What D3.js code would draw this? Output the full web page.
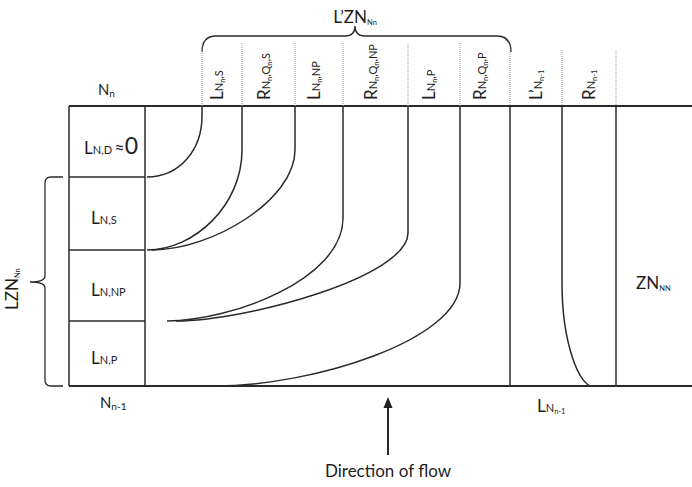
<!DOCTYPE html>
<html><head><meta charset="utf-8">
<script src="https://cdn.jsdelivr.net/npm/d3@7"></script>
<style>
body{margin:0;background:#fff}
svg{display:block}
text{font-family:Lato,"Open Sans",sans-serif;fill:#1e1e1e}
</style>
</head><body>
<svg id="c" width="692" height="487"></svg>
<script>
// ---------- data (diagram units) ----------
const rowEdges = [106, 177, 250, 321, 386];          // N_n ... N_n-1 depth boundaries
const colEdges = [202, 242, 295, 343, 408, 460, 510, 562, 616]; // band boundaries
const rowLabels = [
  [["L",0],["N,D",1],["\u2009\u2248",3],["0",4]],
  [["L",0],["N,S",1]],
  [["L",0],["N,NP",1]],
  [["L",0],["N,P",1]]
];
const colLabels = [
  [["L",0],["N",1],["n",2],[",S",1]],
  [["R",0],["N",1],["n",2],[",",1],["Q",1],["n",2],[",S",1]],
  [["L",0],["N",1],["n",2],[",NP",1]],
  [["R",0],["N",1],["n",2],[",",1],["Q",1],["n",2],[",NP",1]],
  [["L",0],["N",1],["n",2],[",P",1]],
  [["R",0],["N",1],["n",2],[",",1],["Q",1],["n",2],[",P",1]],
  [["L\u2019",0],["N",1],["n-1",2]],
  [["R",0],["N",1],["n-1",2]]
];
// flow boundary curves: top x, bend depth, end x, end depth, shape factors
const curveTopX  = [202, 242, 295, 343, 408, 460, 562];
const curveBendY = [116, 150, 150, 218, 233, 283, 283];
const curveEndX  = [147, 147, 152, 167, 176, 215, 592];
const curveEndY  = [177, 250, 250, 321, 321, 386, 386];
const curveK     = [0.55, 0.55, 0.5, 0.6, 0.5, 0.55, 0.6];
const curveM     = [0.6, 0.5, 0.42, 0.36, 0.3, 0.4, 0.4];

// ---------- setup ----------
const W = 692, H = 487;
const svg = d3.select("#c");
const x = d3.scaleLinear().domain([0, 692]).range([0, W]);
const y = d3.scaleLinear().domain([0, 487]).range([0, H]);
const sizes = [17, 11, 7.5, 18, 23];
const shifts = [0, 0, 2, 0, 0];
const ink = "#2a2a2a";

function rich(sel, parts, scale) {
  scale = scale || 1;
  let cur = 0;
  parts.forEach(([t, lv]) => {
    const sh = shifts[lv];
    sel.append("tspan").attr("font-size", sizes[lv] * scale).attr("dy", sh - cur).text(t);
    cur = sh;
  });
  return sel;
}

const L = svg.append("g").attr("fill", "none").attr("stroke", ink).attr("stroke-width", 1.5);

// outer frame
const xLeft = 69, xCol = 145;
L.append("line").attr("x1", x(xLeft)).attr("x2", x(692)).attr("y1", y(rowEdges[0])).attr("y2", y(rowEdges[0])).attr("stroke-width", 2);
L.append("line").attr("x1", x(xLeft)).attr("x2", x(692)).attr("y1", y(rowEdges[4])).attr("y2", y(rowEdges[4])).attr("stroke-width", 2);
L.append("line").attr("x1", x(xLeft)).attr("x2", x(xLeft)).attr("y1", y(rowEdges[0])).attr("y2", y(rowEdges[4]));
L.append("line").attr("x1", x(xCol)).attr("x2", x(xCol)).attr("y1", y(rowEdges[0])).attr("y2", y(rowEdges[4]));
rowEdges.slice(1, 4).forEach(r => {
  L.append("line").attr("x1", x(xLeft)).attr("x2", x(xCol)).attr("y1", y(r)).attr("y2", y(r));
});
// straight verticals
[colEdges[6], colEdges[8]].forEach(c => {
  L.append("line").attr("x1", x(c)).attr("x2", x(c)).attr("y1", y(rowEdges[0])).attr("y2", y(rowEdges[4]));
});
// dotted label separators
colEdges.forEach((c, i) => {
  svg.append("line").attr("x1", x(c)).attr("x2", x(c))
    .attr("y1", y(i < 6 ? 43 : 50)).attr("y2", y(rowEdges[0]))
    .attr("stroke", "#999").attr("stroke-width", 1).attr("stroke-dasharray", "1,1");
});
// curves
curveTopX.forEach((x0, i) => {
  const yb = curveBendY[i], xe = curveEndX[i], ye = curveEndY[i];
  const p = d3.path();
  p.moveTo(x(x0), y(rowEdges[0]));
  p.lineTo(x(x0), y(yb));
  p.bezierCurveTo(x(x0), y(yb + curveK[i] * (ye - yb)),
                  x(xe + curveM[i] * (x0 - xe)), y(ye),
                  x(xe), y(ye));
  L.append("path").attr("d", p.toString());
});

// top brace
const tb = d3.path();
tb.moveTo(x(202), y(52)); tb.quadraticCurveTo(x(202), y(36), x(216), y(36));
tb.lineTo(x(345), y(36)); tb.quadraticCurveTo(x(355), y(36), x(355), y(26));
tb.quadraticCurveTo(x(355), y(36), x(365), y(36));
tb.lineTo(x(497), y(36)); tb.quadraticCurveTo(x(511), y(36), x(511), y(52));
L.append("path").attr("d", tb.toString()).attr("stroke-width", 1.3);
// left brace
const lb = d3.path();
lb.moveTo(x(63), y(177)); lb.lineTo(x(51), y(177)); lb.quadraticCurveTo(x(45), y(177), x(45), y(183));
lb.lineTo(x(45), y(276)); lb.quadraticCurveTo(x(45), y(282), x(30), y(282));
lb.quadraticCurveTo(x(45), y(282), x(45), y(288));
lb.lineTo(x(45), y(380)); lb.quadraticCurveTo(x(45), y(386), x(51), y(386)); lb.lineTo(x(63), y(386));
L.append("path").attr("d", lb.toString()).attr("stroke-width", 1.3);

// arrow
L.append("line").attr("x1", x(388)).attr("x2", x(388)).attr("y1", y(455)).attr("y2", y(406)).attr("stroke-width", 2);
svg.append("path").attr("fill", "#222")
  .attr("d", `M${x(388)},${y(397)} L${x(383.5)},${y(408)} L${x(392.5)},${y(408)} Z`);

// ---------- text ----------
// row labels
rowLabels.forEach((parts, i) => {
  const cy = (rowEdges[i] + rowEdges[i + 1]) / 2;
  const t = svg.append("text").attr("x", x(i === 0 ? 84 : 91)).attr("y", y(cy + (i === 0 ? 12 : 10)));
  rich(t, parts);
});
// column labels (rotated)
colLabels.forEach((parts, i) => {
  const cx = (colEdges[i] + colEdges[i + 1]) / 2 + (i < 6 ? 1 : 6);
  const t = svg.append("text").attr("transform", `translate(${x(cx)},${y(100)}) rotate(-90)`);
  rich(t, parts);
});
// N_n / N_n-1
rich(svg.append("text").attr("x", x(98)).attr("y", y(95)), [["N", 1], ["n", 2]], 1.35);
rich(svg.append("text").attr("x", x(100)).attr("y", y(408)), [["N", 1], ["n-1", 2]], 1.35);
// L'ZN_Nn
rich(svg.append("text").attr("x", x(355)).attr("y", y(23)).attr("text-anchor", "middle"), [["L\u2019ZN", 0], ["Nn", 2]]);
// LZN_Nn rotated
rich(svg.append("text").attr("transform", `translate(${x(18)},${y(310)}) rotate(-90)`), [["LZN", 0], ["Nn", 2]]);
// ZN_NN
rich(svg.append("text").attr("x", x(636)).attr("y", y(289)), [["ZN", 0], ["NN", 2]]);
// L_Nn-1 bottom
rich(svg.append("text").attr("x", x(537)).attr("y", y(412)), [["L", 0], ["N", 1], ["n-1", 2]]);
// direction of flow
svg.append("text").attr("x", x(388)).attr("y", y(477)).attr("text-anchor", "middle")
  .attr("font-size", 17).text("Direction of flow");
</script>
</body></html>
